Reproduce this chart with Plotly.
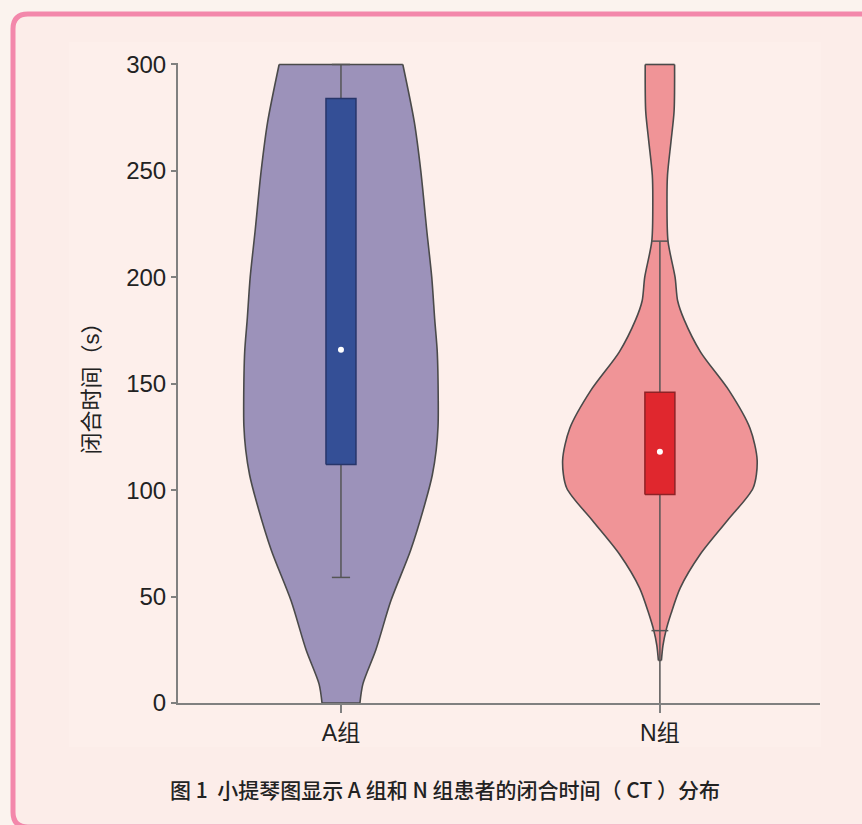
import plotly.graph_objects as go

# ---------------- data ----------------
groups = ["A组", "N组"]
positions = [0, 1]

# violin outline: y levels and relative density (half-width, max = 1)
a_y = [0, 9, 25, 48, 72, 95, 107, 119, 130, 142, 165, 180, 200, 222, 250, 273, 300]
a_dens = [19, 22, 35, 50, 70, 85, 91.5, 95.5, 97.3, 97.5, 96.5, 94, 91, 86, 80, 73.5, 62]

n_y = [20, 27, 34, 42, 54, 70, 86, 101, 114, 129, 147, 165, 180, 189, 200, 217, 236, 248, 264, 278, 300]
n_dens = [1.5, 3, 6, 11, 20, 40, 67, 92, 96, 89, 68, 40, 24, 17.5, 15, 8, 7, 7.5, 11, 14, 14.5]

# box statistics
q1 = [112, 98]
median = [166, 118]
q3 = [284, 146]
lower_fence = [59, 34]
upper_fence = [300, 217]
minimum = [59, 0]

# ---------------- styles ----------------
violin_fill = ["#9C92BA", "#F09497"]
box_fill = ["#344F96", "#E0272E"]
box_line = ["#27356A", "#8E2226"]
outline = "#4A4A4A"
half_width = 0.305
box_width = 0.094

fig = go.Figure()


def add_violin(center, ys, dens, fill):
    m = max(dens)
    xl = [center - half_width * d / m for d in dens]
    xr = [center + half_width * d / m for d in dens]
    line = dict(color=outline, width=1.6, shape="spline", smoothing=0.8)
    fig.add_trace(go.Scatter(x=xl, y=ys, mode="lines", line=line,
                             hoverinfo="skip", showlegend=False))
    fig.add_trace(go.Scatter(x=xr, y=ys, mode="lines", line=line,
                             fill="tonextx", fillcolor=fill,
                             hoverinfo="skip", showlegend=False))
    # flat ends of the violin (cut at the data range)
    fig.add_trace(go.Scatter(
        x=[xl[0], xr[0], None, xl[-1], xr[-1]],
        y=[ys[0], ys[0], None, ys[-1], ys[-1]],
        mode="lines", line=dict(color=outline, width=1.6),
        hoverinfo="skip", showlegend=False))


add_violin(positions[0], a_y, a_dens, violin_fill[0])
add_violin(positions[1], n_y, n_dens, violin_fill[1])

for i, c in enumerate(positions):
    # whiskers
    fig.add_trace(go.Scatter(
        x=[c, c, None, c, c, None, c, c],
        y=[lower_fence[i], q1[i], None, q3[i], upper_fence[i], None, minimum[i], lower_fence[i]],
        mode="lines", line=dict(color="#555555", width=1.5),
        hoverinfo="skip", showlegend=False))
    # caps
    fig.add_trace(go.Scatter(
        x=[c, c], y=[lower_fence[i], upper_fence[i]], mode="markers",
        marker=dict(symbol="line-ew", size=13 if i == 0 else 12,
                    line=dict(color="#555555", width=1.5)),
        hoverinfo="skip", showlegend=False, cliponaxis=False))
    # box (filled rectangle so it sits above the violin)
    bx0, bx1 = c - box_width / 2, c + box_width / 2
    fig.add_trace(go.Scatter(
        x=[bx0, bx1, bx1, bx0, bx0], y=[q1[i], q1[i], q3[i], q3[i], q1[i]],
        mode="lines", fill="toself", fillcolor=box_fill[i],
        line=dict(color=box_line[i], width=1.5),
        hoverinfo="skip", showlegend=False))
    # median dot
    fig.add_trace(go.Scatter(
        x=[c], y=[median[i]], mode="markers",
        marker=dict(color="white", size=6, line=dict(width=0)),
        hoverinfo="skip", showlegend=False))

# ---------------- layout / background ----------------
L_PX, R_PX, T_PX, B_PX = 178, 820, 63, 703
W = R_PX - L_PX
H = B_PX - T_PX


def px_x(p):
    return (p - L_PX) / W


def px_y(p):
    return (B_PX - p) / H


bl, br, bt, bb = px_x(13), px_x(880), px_y(14), px_y(827)
rx, ry = 15 / W, 15 / H
border_path = (
    f"M {bl+rx},{bt} L {br-rx},{bt} Q {br},{bt} {br},{bt-ry} "
    f"L {br},{bb+ry} Q {br},{bb} {br-rx},{bb} L {bl+rx},{bb} "
    f"Q {bl},{bb} {bl},{bb+ry} L {bl},{bt-ry} Q {bl},{bt} {bl+rx},{bt} Z"
)

shapes = [
    dict(type="path", path=border_path, xref="paper", yref="paper",
         fillcolor="#FCEDE9", line=dict(color="#F388AB", width=5), layer="below"),
    dict(type="rect", xref="paper", yref="paper",
         x0=px_x(69), x1=px_x(821), y0=px_y(747), y1=px_y(42),
         fillcolor="#FDEFEB", line=dict(width=0), layer="below"),
]

font_family = "Liberation Sans, Arial, Noto Sans CJK SC, sans-serif"

fig.update_layout(
    width=862, height=825,
    margin=dict(l=L_PX, r=862 - R_PX, t=T_PX, b=825 - B_PX, autoexpand=False),
    paper_bgcolor="#FBF3EE",
    plot_bgcolor="rgba(0,0,0,0)",
    showlegend=False,
    shapes=shapes,
    font=dict(family=font_family, color="#222222"),
    xaxis=dict(
        range=[-0.511, 1.502], tickvals=positions, ticktext=groups,
        showline=True, linecolor="#808080", linewidth=2,
        ticks="outside", ticklen=8, tickwidth=2, tickcolor="#808080",
        showgrid=False, zeroline=False,
        tickfont=dict(size=23, color="#222222"),
    ),
    yaxis=dict(
        range=[0, 300.7], tickvals=[0, 50, 100, 150, 200, 250, 300],
        showline=True, linecolor="#808080", linewidth=2,
        ticks="outside", ticklen=5, tickwidth=2, tickcolor="#808080",
        showgrid=False, zeroline=False,
        tickfont=dict(size=24, color="#222222"),
        title=dict(text="闭合时间（s）", font=dict(size=22, color="#222222"), standoff=20),
    ),
    annotations=[
        dict(text="图 1  小提琴图显示 A 组和 N 组患者的闭合时间（ CT ）分布",
             xref="paper", yref="paper", x=px_x(445), y=px_y(789),
             xanchor="center", yanchor="middle", showarrow=False,
             font=dict(size=21, color="#222222", weight=500,
                       family="Noto Sans CJK SC, Liberation Sans, sans-serif")),
    ],
)

fig.write_html(
    "out.html",
    config={"displayModeBar": False},
    post_script="document.body.style.margin='0';document.body.style.background='#FBF3EE';",
)
